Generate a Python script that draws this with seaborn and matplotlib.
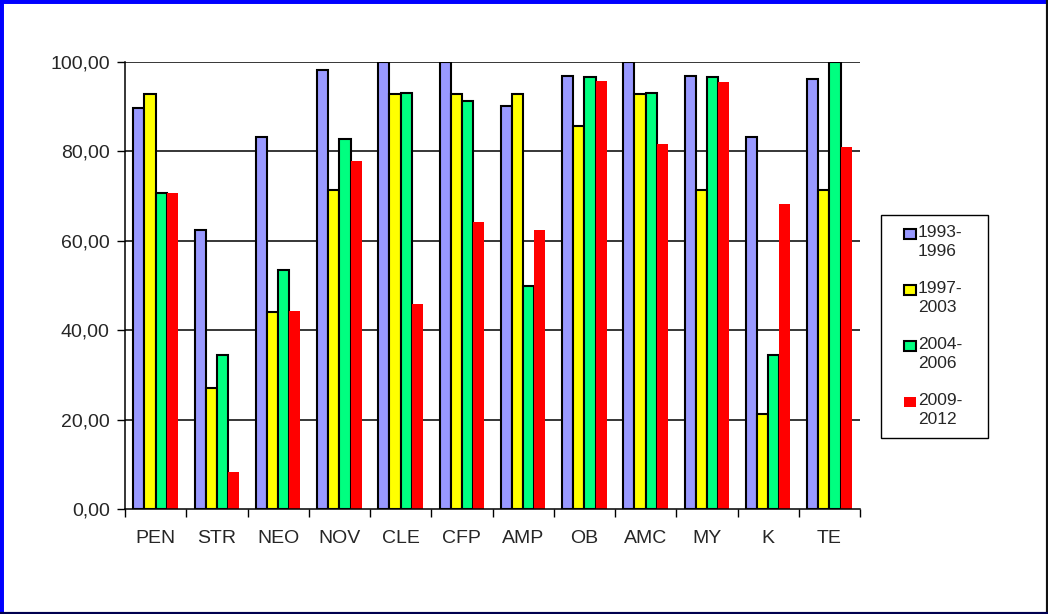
import matplotlib
matplotlib.use("Agg")
import matplotlib.pyplot as plt
import seaborn as sns
import pandas as pd
from matplotlib.patches import Rectangle
from matplotlib.lines import Line2D

categories = ["PEN", "STR", "NEO", "NOV", "CLE", "CFP", "AMP", "OB", "AMC", "MY", "K", "TE"]
series_names = ["1993-\n1996", "1997-\n2003", "2004-\n2006", "2009-\n2012"]
s1993 = [89.6, 62.5, 83.3, 98.1, 100.0, 100.0, 90.1, 96.9, 100.0, 96.9, 83.3, 96.1]
s1997 = [92.9, 27.0, 44.0, 71.4, 92.9, 92.9, 92.9, 85.7, 92.9, 71.4, 21.3, 71.4]
s2004 = [70.7, 34.4, 53.4, 82.8, 93.1, 91.3, 49.9, 96.6, 93.1, 96.6, 34.4, 100.0]
s2009 = [70.6, 8.2, 44.3, 77.8, 45.9, 64.2, 62.4, 95.8, 81.7, 95.6, 68.2, 81.0]
colors = ["#9999FF", "#FFFF00", "#00FF80", "#FF0000"]
yticks = [0, 20, 40, 60, 80, 100]
ytick_labels = ["0,00", "20,00", "40,00", "60,00", "80,00", "100,00"]

rows = []
for name, vals in zip(series_names, [s1993, s1997, s2004, s2009]):
    for c, v in zip(categories, vals):
        rows.append({"cat": c, "series": name, "val": v})
df = pd.DataFrame(rows)

sns.set_theme(style="white")
plt.rcParams["font.family"] = ["Liberation Sans", "DejaVu Sans"]

W, H = 1048, 614
fig = plt.figure(figsize=(W / 100, H / 100), dpi=100)
ax = fig.add_axes([125 / W, 1 - 509 / H, (860 - 125) / W, (509 - 62) / H])

sns.barplot(data=df, x="cat", y="val", hue="series", palette=colors,
            order=categories, hue_order=series_names, width=0.73,
            saturation=1, ax=ax, legend=False, errorbar=None)

for i, cont in enumerate(ax.containers):
    for p in cont.patches:
        if i < 3:
            p.set_edgecolor("black")
            p.set_linewidth(1.5)
        else:
            p.set_edgecolor("none")
            p.set_linewidth(0)

ax.set_ylim(0, 100)
ax.set_xlim(-0.5, len(categories) - 0.5)
ax.set_yticks(yticks)
ax.set_yticklabels(ytick_labels, fontsize=14)
ax.set_xticks(range(len(categories)))
ax.set_xticklabels(categories, fontsize=14)
ax.set_xlabel("")
ax.set_ylabel("")
for y in yticks[1:]:
    ax.axhline(y, color="black", lw=1.1, zorder=0)
ax.set_axisbelow(True)

for s in ["top", "right"]:
    ax.spines[s].set_visible(False)
for s in ["left", "bottom"]:
    ax.spines[s].set_color("black")
    ax.spines[s].set_linewidth(1.1)

ax.tick_params(axis="y", which="major", direction="out", length=6, width=1, color="black", left=True, pad=5)
ax.tick_params(axis="x", which="major", length=0, pad=15)
ax.set_xticks([i - 0.5 for i in range(len(categories) + 1)], minor=True)
ax.tick_params(axis="x", which="minor", direction="out", length=6, width=1, color="black", bottom=True)

def fx(px):
    return px / W

def fy(py):
    return 1 - py / H

fig.patches.append(Rectangle((fx(881), fy(438)), fx(988) - fx(881), fy(215) - fy(438),
                             transform=fig.transFigure, fill=True, facecolor="white",
                             edgecolor="black", linewidth=1, zorder=5))
for i, (name, c) in enumerate(zip(series_names, colors)):
    top = 229 + 56 * i
    fig.patches.append(Rectangle((fx(904), fy(top + 10)), fx(916) - fx(904), fy(top) - fy(top + 10),
                                 transform=fig.transFigure, facecolor=c,
                                 edgecolor="black" if i < 3 else "none",
                                 linewidth=1.5 if i < 3 else 0, zorder=6))
    fig.text(fx(918), fy(top - 4), name, fontsize=12.5, va="top", ha="left",
             linespacing=1.3, zorder=7)

fig.add_artist(Line2D([0, 0], [0, 1], transform=fig.transFigure, color="#0000FF", lw=5))
fig.add_artist(Line2D([0, 1], [1, 1], transform=fig.transFigure, color="#0000FF", lw=5))
fig.add_artist(Line2D([1, 1], [0, 1], transform=fig.transFigure, color="#101010", lw=3))
fig.add_artist(Line2D([0, 1], [0, 0], transform=fig.transFigure, color="#000050", lw=3))

fig.savefig("out.png", dpi=100)
